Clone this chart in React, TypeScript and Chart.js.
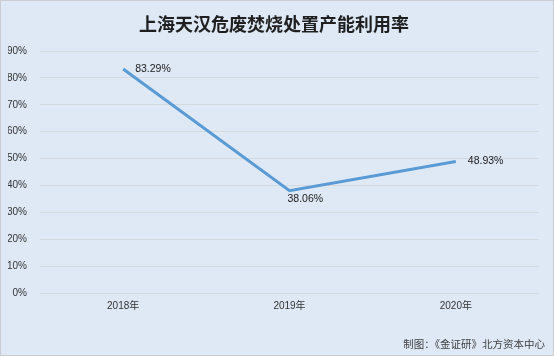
import React, { useEffect, useRef } from "react";
import { Chart, registerables } from "chart.js";

Chart.register(...registerables);

const categories = ["2018年", "2019年", "2020年"];
const utilization = [83.29, 38.06, 48.93];
const valueLabels = ["83.29%", "38.06%", "48.93%"];
const labelPlacement = ["right", "below", "right"];
const yTicks = [0, 10, 20, 30, 40, 50, 60, 70, 80, 90];
const titleText = "上海天汉危废焚烧处置产能利用率";
const footerText = "制图：《金证研》北方资本中心";

const FONT = '"Liberation Sans", "Noto Sans CJK SC", sans-serif';
const CJK = '"Noto Sans CJK SC", "Liberation Sans", sans-serif';

const decorPlugin = {
  id: "decor",
  beforeDraw(chart: any) {
    const { ctx, width, height } = chart;
    ctx.save();
    ctx.fillStyle = "#dee9f5";
    ctx.fillRect(0, 0, width, height);
    ctx.strokeStyle = "#c9cdd2";
    ctx.lineWidth = 1;
    ctx.strokeRect(0.5, 0.5, width - 1, height - 1);
    ctx.restore();
  },
  afterDraw(chart: any) {
    const { ctx } = chart;
    ctx.save();
    ctx.fillStyle = "#1f1f1f";
    ctx.font = `bold 18px ${CJK}`;
    ctx.textAlign = "center";
    ctx.textBaseline = "middle";
    ctx.fillText(titleText, 274, 24);
    ctx.fillStyle = "#404040";
    ctx.font = `10.5px ${CJK}`;
    ctx.textAlign = "right";
    ctx.fillText(footerText, 545, 344);

    const meta = chart.getDatasetMeta(0);
    ctx.fillStyle = "#1a1a1a";
    ctx.font = `10.5px ${FONT}`;
    meta.data.forEach((pt: any, i: number) => {
      const place = labelPlacement[i];
      ctx.textAlign = "left";
      ctx.textBaseline = "middle";
      if (place === "right") {
        ctx.fillText(valueLabels[i], pt.x + 12, pt.y);
      } else {
        ctx.fillText(valueLabels[i], pt.x - 2, pt.y + 8);
      }
    });
    ctx.restore();
  },
};

export default function App() {
  const ref = useRef<HTMLCanvasElement | null>(null);
  useEffect(() => {
    if (!ref.current) return;
    const chart = new Chart(ref.current, {
      type: "line",
      data: {
        labels: categories,
        datasets: [
          {
            data: utilization,
            borderColor: "#5b9bd5",
            borderWidth: 3,
            pointRadius: 0,
            pointHoverRadius: 0,
            tension: 0,
            fill: false,
          },
        ],
      },
      options: {
        animation: false,
        responsive: false,
        maintainAspectRatio: false,
        layout: { padding: { left: 8, right: 15, top: 51, bottom: 37 } },
        plugins: {
          legend: { display: false },
          title: { display: false },
          tooltip: { enabled: false },
        },
        scales: {
          x: {
            offset: true,
            grid: { display: false, drawTicks: false },
            border: { display: false },
            ticks: {
              padding: 7,
              color: "#333333",
              font: { family: FONT, size: 10 },
            },
          },
          y: {
            min: 0,
            max: 90,
            afterFit: (scale: any) => {
              scale.width = 32;
            },
            afterBuildTicks: (scale: any) => {
              scale.ticks = yTicks.map((v) => ({ value: v }));
            },
            grid: { color: "#d4d9dd", lineWidth: 1, drawTicks: false },
            border: { display: false },
            ticks: {
              padding: 13,
              color: "#333333",
              font: { family: FONT, size: 10 },
              callback: (v: any) => `${v}%`,
            },
          },
        },
      },
      plugins: [decorPlugin],
    });
    return () => chart.destroy();
  }, []);
  return (
    <div style={{ position: "fixed", left: 0, top: 0, width: 554, height: 356 }}>
      <canvas ref={ref} width={554} height={356} style={{ width: 554, height: 356, display: "block" }} />
    </div>
  );
}
